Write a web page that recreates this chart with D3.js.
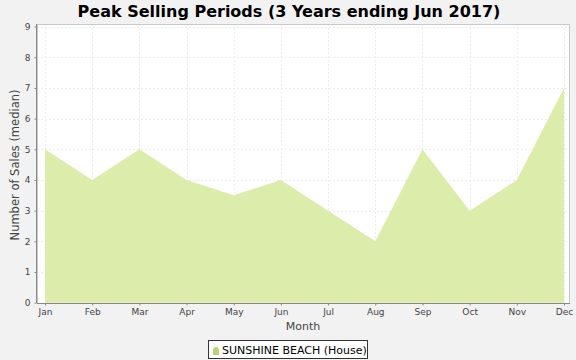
<!DOCTYPE html>
<html>
<head>
<meta charset="utf-8">
<script src="https://cdn.jsdelivr.net/npm/d3@7"></script>
<style>
  body { margin: 0; background: #f2f2f2; }
  svg { display: block; font-family: "DejaVu Sans", sans-serif; }
</style>
</head>
<body>
<script>
// datos
var MONTHS = ["Jan", "Feb", "Mar", "Apr", "May", "Jun", "Jul", "Aug", "Sep", "Oct", "Nov", "Dec"];
var SALES = [5, 4, 5, 4, 3.5, 4, 3, 2, 5, 3, 4, 7];
var Y_TICKS = [0, 1, 2, 3, 4, 5, 6, 7, 8, 9];
var SERIES_NAME = "SUNSHINE BEACH (House)";

var w = 576, h = 360;
var plot = { left: 37, right: 570, top: 24, bottom: 303 };
var fill = "#dcedab";

var svg = d3.select("body").append("svg").attr("width", w).attr("height", h);

svg.append("rect").attr("width", w).attr("height", h).attr("fill", "#f2f2f2");

svg.append("text").attr("x", 289).attr("y", 17).attr("text-anchor", "middle")
  .attr("font-size", 16).attr("font-weight", "bold").attr("fill", "#000")
  .text("Peak Selling Periods (3 Years ending Jun 2017)");

// fondo del área de dibujo
svg.append("rect").attr("x", plot.left).attr("y", plot.top)
  .attr("width", plot.right - plot.left).attr("height", plot.bottom - plot.top)
  .attr("fill", "#fff");

var x = d3.scalePoint().domain(MONTHS).range([45, 564]);
var y = d3.scaleLinear().domain([0, 9]).range([302.7, 26.6]);

// grilla
var grid = svg.append("g").attr("stroke", "#ececec").attr("stroke-dasharray", "2,2").attr("stroke-width", 1);
grid.selectAll(".gy").data(Y_TICKS).enter().append("line")
  .attr("x1", plot.left).attr("x2", plot.right)
  .attr("y1", function (d) { return Math.round(y(d)) + 0.5; })
  .attr("y2", function (d) { return Math.round(y(d)) + 0.5; });
grid.selectAll(".gx").data(MONTHS).enter().append("line")
  .attr("y1", plot.top).attr("y2", plot.bottom)
  .attr("x1", function (d) { return Math.round(x(d)) + 0.5; })
  .attr("x2", function (d) { return Math.round(x(d)) + 0.5; });

var area = d3.area()
  .x(function (d, i) { return x(MONTHS[i]); })
  .y0(y(0))
  .y1(function (d) { return y(d); });

svg.append("path").datum(SALES).attr("d", area).attr("fill", fill);

// borde
svg.append("rect").attr("x", plot.left + 0.5).attr("y", plot.top + 0.5)
  .attr("width", plot.right - plot.left - 1).attr("height", plot.bottom - plot.top)
  .attr("fill", "none").attr("stroke", "#c8c8c8");

// ejes
var yAxis = svg.append("g").attr("transform", "translate(" + (plot.left - 0.5) + ",0)")
  .call(d3.axisLeft(y).tickValues(Y_TICKS).tickSize(2).tickPadding(4));
var xAxis = svg.append("g").attr("transform", "translate(0," + (plot.bottom + 0.5) + ")")
  .call(d3.axisBottom(x).tickSize(2).tickPadding(3).tickSizeOuter(0));
yAxis.select(".domain").attr("d", "M0," + plot.top + "V" + plot.bottom);
xAxis.select(".domain").attr("d", "M" + plot.left + ",0H" + plot.right);
[yAxis, xAxis].forEach(function (a) {
  a.selectAll(".domain, line").attr("stroke", "#888");
  a.selectAll("text").attr("font-size", 9).attr("fill", "#444").attr("font-family", "DejaVu Sans, sans-serif");
});

svg.append("text").attr("x", 303).attr("y", 330).attr("text-anchor", "middle")
  .attr("font-size", 11).attr("fill", "#444").text("Month");

svg.append("text").attr("transform", "translate(19,165) rotate(-90)").attr("text-anchor", "middle")
  .attr("font-size", 11.5).attr("fill", "#444").text("Number of Sales (median)");

// leyenda
var lg = svg.append("g");
lg.append("rect").attr("x", 208.5).attr("y", 340.5).attr("width", 159).attr("height", 18)
  .attr("fill", "#fff").attr("stroke", "#333");
lg.append("path").attr("d", "M213,355V351Q213,347 216,347Q219,347 219,351V355Z").attr("fill", "#b5d46e");
lg.append("text").attr("x", 222).attr("y", 354).attr("font-size", 11).attr("fill", "#000").text(SERIES_NAME);
</script>
</body>
</html>
